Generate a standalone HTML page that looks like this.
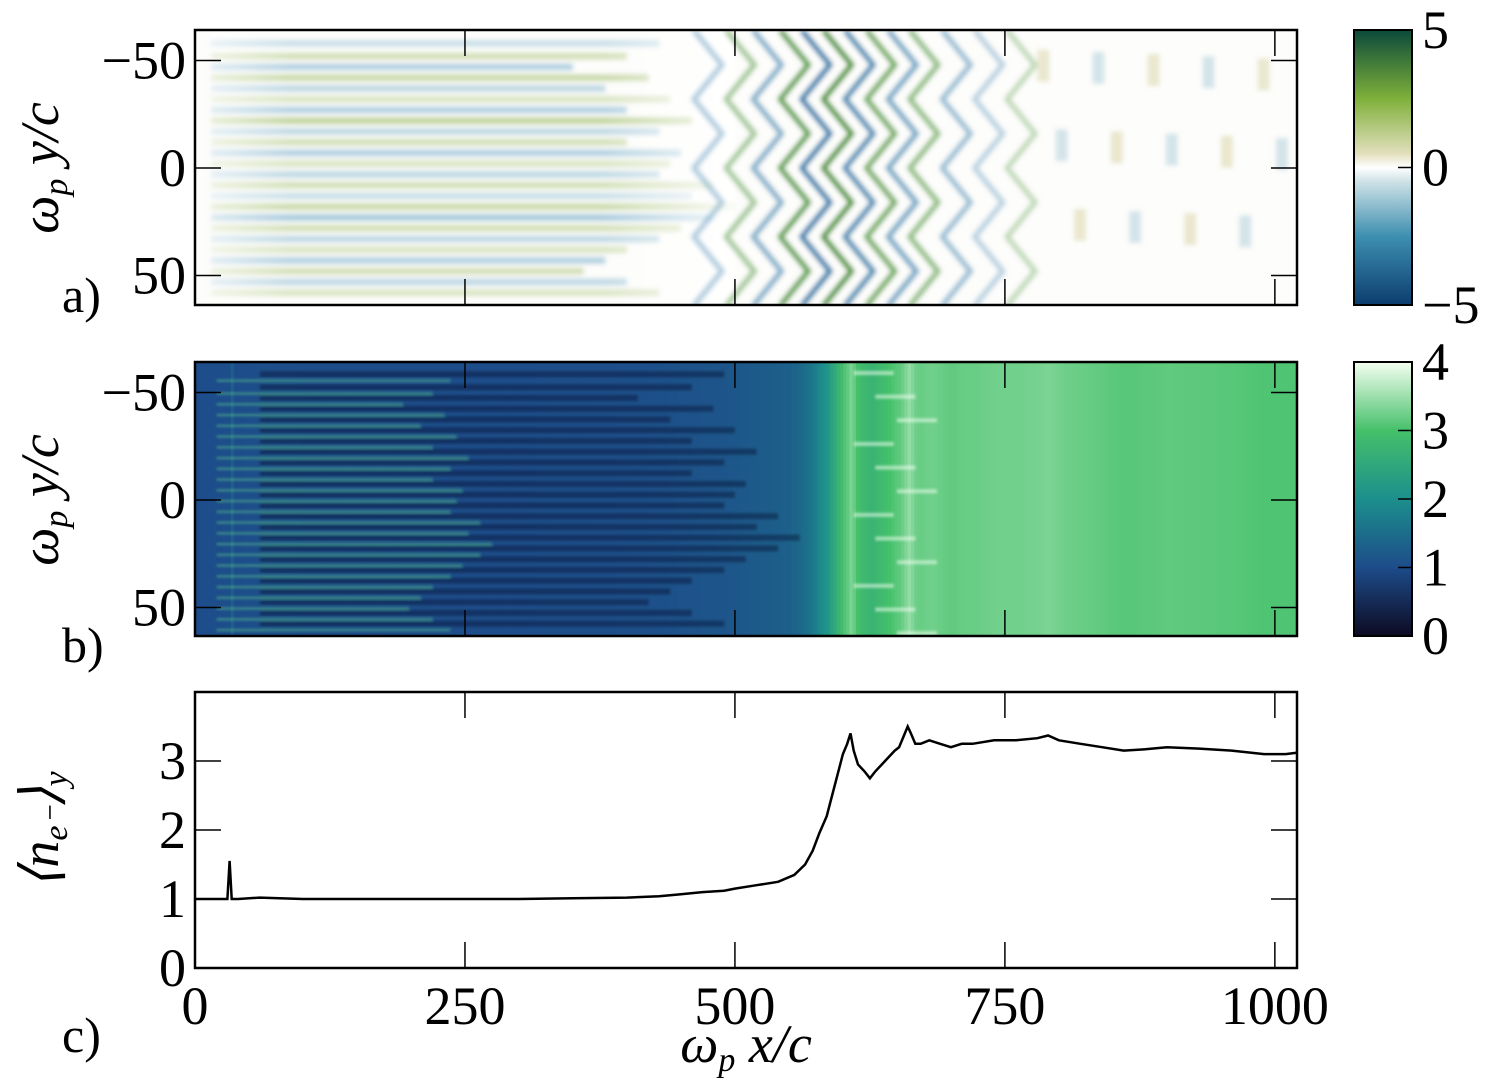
<!DOCTYPE html>
<html><head><meta charset="utf-8"><style>
body{margin:0;background:#fff;}
svg text{font-family:"Liberation Serif",serif;fill:#000;}
</style></head><body>
<svg id="fig" width="1500" height="1078" xmlns="http://www.w3.org/2000/svg">
<defs>
<linearGradient id="cbA" x1="0" y1="1" x2="0" y2="0">
<stop offset="0" stop-color="#0b3d6e"/><stop offset="0.25" stop-color="#3d8fb0"/><stop offset="0.45" stop-color="#cfe2e6"/><stop offset="0.5" stop-color="#ffffff"/><stop offset="0.55" stop-color="#e2dfbd"/><stop offset="0.75" stop-color="#7fb03a"/><stop offset="1" stop-color="#0b4a3a"/>
</linearGradient>
<linearGradient id="cbB" x1="0" y1="1" x2="0" y2="0">
<stop offset="0" stop-color="#0d0a22"/><stop offset="0.25" stop-color="#1d4c8a"/><stop offset="0.5" stop-color="#1c8f8c"/><stop offset="0.75" stop-color="#45c06a"/><stop offset="1" stop-color="#f4fff0"/>
</linearGradient>
<linearGradient id="fadeR" x1="0" y1="0" x2="1" y2="0">
<stop offset="0" stop-color="#fff" stop-opacity="0.6"/><stop offset="0.15" stop-color="#fff" stop-opacity="0"/><stop offset="0.75" stop-color="#fff" stop-opacity="0"/><stop offset="1" stop-color="#fff" stop-opacity="0.9"/>
</linearGradient>
<filter id="blurA"><feGaussianBlur stdDeviation="2.5"/></filter>
<filter id="blurB"><feGaussianBlur stdDeviation="1.2"/></filter>
<clipPath id="clipA"><rect x="195" y="30" width="1102" height="275"/></clipPath>
<clipPath id="clipB"><rect x="195" y="362" width="1102" height="274"/></clipPath>
</defs>
<g clip-path="url(#clipA)"><g id="panelA" filter="url(#blurA)"></g></g>
<g clip-path="url(#clipB)"><g id="panelB"></g></g>
<g id="panelC"></g>
<g id="axes"></g>
</svg>
<script>
const profileX=[0,20,30,32,34,40,60,100,150,200,250,300,350,400,430,450,470,490,500,520,540,555,565,572,578,585,590,595,600,604,607,610,614,620,625,630,636,642,648,652,656,660,663,667,672,680,690,700,710,720,740,760,780,790,800,820,840,860,880,900,930,960,990,1010,1020];
const profileY=[1.0,1.0,1.0,1.55,1.0,1.0,1.02,1.0,1.0,1.0,1.0,1.0,1.01,1.02,1.04,1.07,1.1,1.12,1.15,1.2,1.25,1.35,1.5,1.7,1.95,2.2,2.5,2.8,3.1,3.25,3.4,3.15,2.95,2.85,2.75,2.85,2.95,3.05,3.15,3.2,3.35,3.5,3.4,3.25,3.25,3.3,3.25,3.2,3.25,3.25,3.3,3.3,3.33,3.37,3.3,3.25,3.2,3.15,3.17,3.2,3.18,3.15,3.1,3.1,3.12];
const xTicks=[0,250,500,750,1000];
const yTicksMap=[-50,0,50];
const yTicksC=[0,1,2,3];
const cbATicks=[5,0,-5];
const cbBTicks=[4,3,2,1,0];
const stripeY=[-58,-52,-47,-42,-37,-32,-27,-22,-17,-12,-7,-2,3,8,13,18,23,28,33,38,43,48,53,58];
const stripeAmp=[-0.4,0.5,-0.6,0.6,-0.5,0.4,-0.6,0.7,-0.5,0.5,-0.6,0.4,-0.5,0.5,-0.4,0.6,-0.7,0.5,-0.5,0.4,-0.6,0.5,-0.5,0.4];
const stripeLen=[430,400,350,420,380,440,400,460,430,400,450,440,430,480,460,500,480,450,430,400,380,360,400,430];
const waveX=[470,500,525,550,570,590,610,630,650,670,700,730,760];
const waveSign=[-1,1,-1,1,-1,1,-1,1,-1,1,-1,-1,1];
const waveAmp=[0.35,0.45,0.55,0.8,0.9,0.9,0.8,0.7,0.6,0.55,0.45,0.3,0.3];

const NS='http://www.w3.org/2000/svg';
function mk(tag,attrs,parent){const e=document.createElementNS(NS,tag);for(const k in attrs)e.setAttribute(k,attrs[k]);parent.appendChild(e);return e;}
const X0=195,X1=1297,XMAX=1020.5;
const sx=v=>X0+v*(X1-X0)/XMAX;
const syA=v=>168+v*2.15, syB=v=>500+v*2.15;
const syC=v=>968-v*69;
function interp(x){for(let i=1;i<profileX.length;i++){if(x<=profileX[i]){const t=(x-profileX[i-1])/(profileX[i]-profileX[i-1]);return profileY[i-1]+t*(profileY[i]-profileY[i-1]);}}return profileY[profileY.length-1];}
const stopsB=[[0,[13,10,34]],[1,[29,76,138]],[2,[28,143,140]],[3,[69,192,106]],[4,[244,255,240]]];
function cmapB(v){v=Math.max(0,Math.min(4,v));for(let i=1;i<stopsB.length;i++){if(v<=stopsB[i][0]){const a=stopsB[i-1],b=stopsB[i];const t=(v-a[0])/(b[0]-a[0]);return 'rgb('+a[1].map((c,j)=>Math.round(c+t*(b[1][j]-c))).join(',')+')';}}}

// Panel A
const pA=document.getElementById('panelA');
mk('rect',{x:185,y:20,width:1122,height:295,fill:'#fdfdfb'},pA);
stripeY.forEach((y,i)=>{
  const a=stripeAmp[i];const col=a>0?'#8fb04a':'#5a9ec0';
  const r=mk('rect',{x:sx(15),y:syA(y)-3.5,width:sx(stripeLen[i])-sx(15),height:7,fill:col,opacity:Math.abs(a)*0.75},pA);
  
  
});
mk('rect',{x:sx(15),y:30,width:sx(500)-sx(15),height:275,fill:'url(#fadeR)'},pA);
waveX.forEach((x,i)=>{
  const col=waveSign[i]>0?'#3f8f2a':'#2a78a8';
  let d='';const n=8;
  for(let k=0;k<=n;k++){const yy=-64+k*128/n;const xx=x+(k%2?18:-8);d+=(k?'L':'M')+sx(xx)+','+syA(yy);}
  const p=mk('path',{d:d,fill:'none',stroke:col,'stroke-width':6,opacity:waveAmp[i],'stroke-linejoin':'round'},pA);
  
  
});
for(let i=0;i<14;i++){const x=780+i*17;const y=-55+((i*37)%110);mk('rect',{x:sx(x),y:syA(y),width:12,height:32,fill:i%2?'#b8d3de':'#ddd8b0',opacity:0.6},pA);}

// Panel B
const pB=document.getElementById('panelB');
for(let x=0;x<XMAX;x+=3){
  const r=mk('rect',{x:sx(x),y:362,width:(X1-X0)/XMAX*3+0.6,height:274,fill:cmapB(interp(x)*0.97+0.05)},pB);
  
  
}
const gB=mk('g',{filter:'url(#blurB)'},pB);
stripeY.forEach((y,i)=>{
  mk('rect',{x:sx(60),y:syB(y)-4,width:sx(stripeLen[i]+60)-sx(60),height:6,fill:'#0d0a22',opacity:0.35},gB);
  mk('rect',{x:sx(20),y:syB(y+2.5)-1,width:sx(stripeLen[i]*0.55)-sx(20),height:2,fill:'#5fd08a',opacity:0.55},gB);
});
for(let i=0;i<12;i++){const y=-60+i*11;mk('rect',{x:sx(610+(i%3)*20),y:syB(y),width:40,height:4,fill:'#f0fff0',opacity:0.55},gB);}

// Panel C
const pC=document.getElementById('panelC');
let d='';profileX.forEach((x,i)=>{d+=(i?'L':'M')+sx(x).toFixed(1)+','+syC(profileY[i]).toFixed(1);});
const line=mk('path',{d:d,fill:'none',stroke:'#000','stroke-width':2.5},pC);



// Axes
const ax=document.getElementById('axes');
const TL=26;
function frame(y0,y1,name){const r=mk('rect',{x:X0,y:y0,width:X1-X0,height:y1-y0,fill:'none',stroke:'#000','stroke-width':2.5},ax);
  xTicks.forEach(t=>{mk('line',{x1:sx(t),x2:sx(t),y1:y0,y2:y0+TL,stroke:'#000','stroke-width':1.5},ax);mk('line',{x1:sx(t),x2:sx(t),y1:y1,y2:y1-TL,stroke:'#000','stroke-width':1.5},ax);});}
frame(30,305,'panel-a-frame');frame(362,636,'panel-b-frame');frame(692,968,'panel-c-frame');
function ylab(txt,x,y){const t=mk('text',{x:x,y:y,'font-size':54,'text-anchor':'end'},ax);t.textContent=txt;}
[syA,syB].forEach(f=>{yTicksMap.forEach(v=>{const y=f(v);mk('line',{x1:X0,x2:X0+TL,y1:y,y2:y,stroke:'#000','stroke-width':1.5},ax);mk('line',{x1:X1,x2:X1-TL,y1:y,y2:y,stroke:'#000','stroke-width':1.5},ax);ylab(v<0?'\u2212'+(-v):String(v),186,y+18);});});
yTicksC.forEach(v=>{const y=syC(v);mk('line',{x1:X0,x2:X0+TL,y1:y,y2:y,stroke:'#000','stroke-width':1.5},ax);mk('line',{x1:X1,x2:X1-TL,y1:y,y2:y,stroke:'#000','stroke-width':1.5},ax);ylab(String(v),186,y+18);});
xTicks.forEach(v=>{const t=mk('text',{x:sx(v),y:1024,'font-size':54,'text-anchor':'middle'},ax);t.textContent=String(v);});
function cbar(y0,y1,grad,ticks,vmin,vmax,name){const r=mk('rect',{x:1354,y:y0,width:58,height:y1-y0,fill:'url(#'+grad+')',stroke:'#000','stroke-width':2},ax);
  ticks.forEach(v=>{const y=y1-(v-vmin)/(vmax-vmin)*(y1-y0);mk('line',{x1:1398,x2:1412,y1:y,y2:y,stroke:'#000','stroke-width':1.5},ax);const t=mk('text',{x:1422,y:y+18,'font-size':54},ax);t.textContent=v<0?'\u2212'+(-v):String(v);});}
cbar(30,305,'cbA',cbATicks,-5,5,'colorbar-a');cbar(362,636,'cbB',cbBTicks,0,4,'colorbar-b');
function rot(txt,cx,cy,name){const t=mk('text',{x:cx,y:cy,'font-size':54,'font-style':'italic','text-anchor':'middle',transform:'rotate(-90 '+cx+' '+cy+')'},ax);t.innerHTML=txt;}
rot('ω<tspan font-size="34" dy="9">p</tspan><tspan dy="-9"> y/c</tspan>',58,168,'y-axis-title-a');
rot('ω<tspan font-size="34" dy="9">p</tspan><tspan dy="-9"> y/c</tspan>',58,500,'y-axis-title-b');
rot('⟨n<tspan font-size="34" dy="9">e⁻</tspan><tspan dy="-9">⟩</tspan><tspan font-size="34" dy="9">y</tspan>',58,830,'y-axis-title-c');
const xt=mk('text',{x:746,y:1062,'font-size':54,'font-style':'italic','text-anchor':'middle'},ax);xt.innerHTML='ω<tspan font-size="34" dy="9">p</tspan><tspan dy="-9"> x/c</tspan>';
[['a)',62,312],['b)',62,662],['c)',62,1052]].forEach(([s,x,y])=>{const t=mk('text',{x:x,y:y,'font-size':50},ax);t.textContent=s;});
</script>
</body></html>
